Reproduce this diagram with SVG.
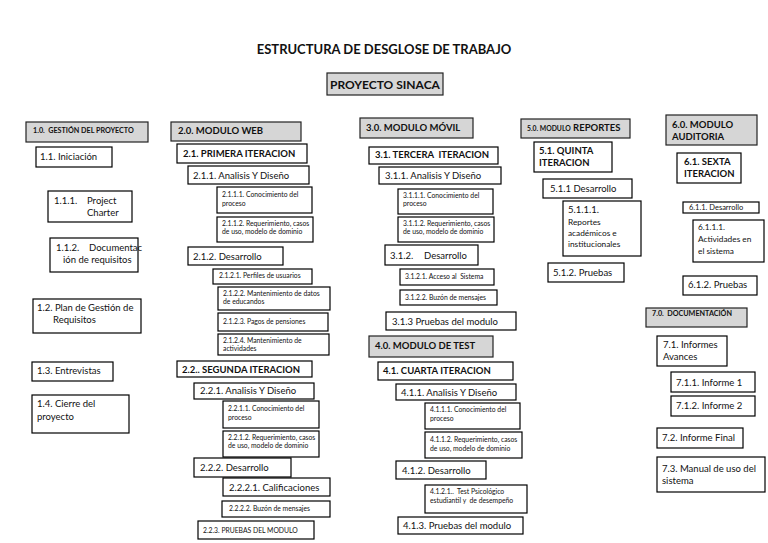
<svg xmlns="http://www.w3.org/2000/svg" width="768" height="543" viewBox="0 0 768 543">
<style>
rect{fill:#fff;stroke:#000;stroke-width:1.2}
rect.g{fill:#d6d6d6;stroke:#222}
text{font-family:Lato,"Liberation Sans",sans-serif;fill:#111}
.ti{font-size:13px;font-weight:bold}
.p{font-size:12px;font-weight:bold}
.h{font-size:9.5px;font-weight:bold}
.hs{font-size:7.2px;font-weight:bold}
.r{font-size:9.5px}
.s{font-size:6.8px}
.m{font-size:8.3px}
</style>
<rect width="768" height="543" style="fill:#fff;stroke:none"/>
<text class="ti" x="384" y="54" text-anchor="middle">ESTRUCTURA DE DESGLOSE DE TRABAJO</text>
<g id="proyecto"><rect class="g" x="327" y="73" width="116" height="22"/><text class="p" x="385" y="89" text-anchor="middle">PROYECTO SINACA</text></g>

<g id="n1_0"><rect class="g" x="26" y="122" width="122" height="20"/><text class="hs" x="33" y="133" xml:space="preserve">1.0.  GESTIÓN DEL PROYECTO</text></g>
<g id="n1_1"><rect x="36" y="147" width="76" height="20"/><text class="r" x="40" y="160">1.1. Iniciación</text></g>
<g id="n1_1_1"><rect x="48" y="191" width="84" height="31"/><text class="r" x="54" y="204">1.1.1.<tspan x="87">Project</tspan></text><text class="r" x="87" y="216">Charter</text></g>
<g id="n1_1_2"><rect x="50" y="238" width="88" height="34"/><text class="r" x="56" y="251">1.1.2.<tspan x="89">Documentac</tspan></text><text class="r" x="63" y="263">ión de requisitos</text></g>
<g id="n1_2"><rect x="33" y="299" width="108" height="34"/><text class="r" x="37" y="311">1.2. Plan de Gestión de</text><text class="r" x="53" y="323">Requisitos</text></g>
<g id="n1_3"><rect x="32" y="362" width="81" height="19"/><text class="r" x="37" y="374">1.3. Entrevistas</text></g>
<g id="n1_4"><rect x="32" y="395" width="97" height="38"/><text class="r" x="37" y="407">1.4. Cierre del</text><text class="r" x="37" y="420">proyecto</text></g>

<g id="n2_0"><rect class="g" x="171" y="122" width="130" height="19"/><text class="h" x="178" y="134">2.0. MODULO WEB</text></g>
<g id="n2_1"><rect x="177" y="144" width="130" height="19"/><text class="h" x="183" y="157">2.1. PRIMERA ITERACION</text></g>
<g id="n2_1_1"><rect x="188" y="166" width="121" height="18"/><text class="r" x="193" y="179">2.1.1. Analisis Y Diseño</text></g>
<g id="n2_1_1_1"><rect x="217" y="187" width="95" height="26"/><text class="s" x="222" y="197">2.1.1.1. Conocimiento del</text><text class="s" x="222" y="206">proceso</text></g>
<g id="n2_1_1_2"><rect x="217" y="217" width="96" height="25"/><text class="s" x="222" y="226">2.1.1.2. Requerimiento, casos</text><text class="s" x="222" y="234">de uso, modelo de dominio</text></g>
<g id="n2_1_2"><rect x="188" y="247" width="95" height="18"/><text class="r" x="193" y="260">2.1.2. Desarrollo</text></g>
<g id="n2_1_2_1"><rect x="213" y="269" width="99" height="15"/><text class="s" x="219" y="278">2.1.2.1. Perfiles de usuarios</text></g>
<g id="n2_1_2_2"><rect x="218" y="287" width="112" height="23"/><text class="s" x="223" y="296">2.1.2.2. Mantenimiento de datos</text><text class="s" x="223" y="304">de educandos</text></g>
<g id="n2_1_2_3"><rect x="218" y="313" width="110" height="18"/><text class="s" x="223" y="324">2.1.2.3. Pagos de pensiones</text></g>
<g id="n2_1_2_4"><rect x="218" y="334" width="111" height="21"/><text class="s" x="223" y="343">2.1.2.4. Mantenimiento de</text><text class="s" x="223" y="351">actividades</text></g>
<g id="n2_2"><rect x="177" y="361" width="135" height="16"/><text class="h" x="182" y="373">2.2.. SEGUNDA ITERACION</text></g>
<g id="n2_2_1"><rect x="194" y="383" width="120" height="16"/><text class="r" x="200" y="394">2.2.1. Analisis Y Diseño</text></g>
<g id="n2_2_1_1"><rect x="223" y="401" width="96" height="27"/><text class="s" x="228" y="411">2.2.1.1. Conocimiento del</text><text class="s" x="228" y="420">proceso</text></g>
<g id="n2_2_1_2"><rect x="223" y="431" width="96" height="26"/><text class="s" x="228" y="440">2.2.1.2. Requerimiento, casos</text><text class="s" x="228" y="448">de uso, modelo de dominio</text></g>
<g id="n2_2_2"><rect x="194" y="458" width="97" height="19"/><text class="r" x="200" y="471">2.2.2. Desarrollo</text></g>
<g id="n2_2_2_1"><rect x="223" y="478" width="107" height="18"/><text class="r" x="229" y="491">2.2.2.1. Calificaciones</text></g>
<g id="n2_2_2_2"><rect x="222" y="501" width="108" height="16"/><text class="s" x="229" y="511">2.2.2.2. Buzón de mensajes</text></g>
<g id="n2_2_3"><rect x="198" y="521" width="116" height="18"/><text class="s" x="203" y="533">2.2.3. PRUEBAS DEL MODULO</text></g>

<g id="n3_0"><rect class="g" x="360" y="118" width="113" height="20"/><text class="h" x="366" y="131">3.0. MODULO MÓVIL</text></g>
<g id="n3_1"><rect x="369" y="147" width="129" height="17"/><text class="h" x="375" y="158" xml:space="preserve">3.1. TERCERA  ITERACION</text></g>
<g id="n3_1_1"><rect x="379" y="167" width="122" height="17"/><text class="r" x="385" y="179">3.1.1. Analisis Y Diseño</text></g>
<g id="n3_1_1_1"><rect x="398" y="189" width="95" height="25"/><text class="s" x="403" y="198">3.1.1.1. Conocimiento del</text><text class="s" x="403" y="206">proceso</text></g>
<g id="n3_1_1_2"><rect x="398" y="217" width="96" height="25"/><text class="s" x="403" y="226">3.1.1.2. Requerimiento, casos</text><text class="s" x="403" y="234">de uso, modelo de dominio</text></g>
<g id="n3_1_2"><rect x="385" y="245" width="93" height="20"/><text class="r" x="390" y="259">3.1.2.<tspan x="424">Desarrollo</tspan></text></g>
<g id="n3_1_2_1"><rect x="400" y="269" width="94" height="16"/><text class="s" x="405" y="279" xml:space="preserve">3.1.2.1. Acceso al  Sistema</text></g>
<g id="n3_1_2_2"><rect x="400" y="290" width="97" height="15"/><text class="s" x="405" y="300">3.1.2.2. Buzón de mensajes</text></g>
<g id="n3_1_3"><rect x="386" y="312" width="130" height="18"/><text class="r" x="392" y="325">3.1.3 Pruebas del modulo</text></g>
<g id="n4_0"><rect class="g" x="369" y="336" width="124" height="21"/><text class="h" x="375" y="349">4.0. MODULO DE TEST</text></g>
<g id="n4_1"><rect x="378" y="362" width="135" height="18"/><text class="h" x="383" y="374">4.1. CUARTA ITERACION</text></g>
<g id="n4_1_1"><rect x="396" y="384" width="120" height="16"/><text class="r" x="401" y="396">4.1.1. Analisis Y Diseño</text></g>
<g id="n4_1_1_1"><rect x="425" y="403" width="95" height="26"/><text class="s" x="430" y="412">4.1.1.1. Conocimiento del</text><text class="s" x="430" y="421">proceso</text></g>
<g id="n4_1_1_2"><rect x="425" y="432" width="97" height="26"/><text class="s" x="430" y="442">4.1.1.2. Requerimiento, casos</text><text class="s" x="430" y="451">de uso, modelo de dominio</text></g>
<g id="n4_1_2"><rect x="396" y="461" width="90" height="18"/><text class="r" x="402" y="474">4.1.2. Desarrollo</text></g>
<g id="n4_1_2_1"><rect x="425" y="485" width="102" height="28"/><text class="s" x="430" y="494" xml:space="preserve">4.1.2.1..  Test Psicológico</text><text class="s" x="430" y="503" xml:space="preserve">estudiantil y  de desempeño</text></g>
<g id="n4_1_3"><rect x="398" y="517" width="125" height="17"/><text class="r" x="403" y="529">4.1.3. Pruebas del modulo</text></g>

<g id="n5_0"><rect class="g" x="521" y="119" width="109" height="19"/><text class="h" x="527" y="131"><tspan style="font-size:6.8px">5.0. MODULO</tspan> REPORTES</text></g>
<g id="n5_1"><rect x="534" y="142" width="78" height="30"/><text class="h" x="539" y="154">5.1. QUINTA</text><text class="h" x="539" y="166">ITERACION</text></g>
<g id="n5_1_1"><rect x="543" y="179" width="89" height="19"/><text class="r" x="550" y="192">5.1.1 Desarrollo</text></g>
<g id="n5_1_1_1"><rect x="563" y="201" width="78" height="55"/><text class="r" x="568" y="213">5.1.1.1.</text><text class="m" x="568" y="225">Reportes</text><text class="m" x="568" y="236">académicos e</text><text class="m" x="568" y="247">institucionales</text></g>
<g id="n5_1_2"><rect x="548" y="263" width="76" height="19"/><text class="r" x="553" y="276">5.1.2. Pruebas</text></g>

<g id="n6_0"><rect class="g" x="666" y="115" width="91" height="30"/><text class="h" x="672" y="128">6.0. MODULO</text><text class="h" x="672" y="140">AUDITORIA</text></g>
<g id="n6_1"><rect x="677" y="153" width="64" height="30"/><text class="h" x="684" y="165">6.1. SEXTA</text><text class="h" x="684" y="177">ITERACION</text></g>
<g id="n6_1_1"><rect x="683" y="202" width="76" height="11"/><text class="s" x="689" y="210" style="font-size:7.5px">6.1.1. Desarrollo</text></g>
<g id="n6_1_1_1"><rect x="693" y="220" width="71" height="42"/><text class="m" x="698" y="230">6.1.1.1.</text><text class="m" x="698" y="242">Actividades en</text><text class="m" x="698" y="254">el sistema</text></g>
<g id="n6_1_2"><rect x="683" y="276" width="74" height="19"/><text class="r" x="688" y="288">6.1.2. Pruebas</text></g>

<g id="n7_0"><rect class="g" x="646" y="308" width="101" height="19"/><text class="hs" x="652" y="316" xml:space="preserve">7.0.  DOCUMENTACIÓN</text></g>
<g id="n7_1"><rect x="657" y="336" width="70" height="30"/><text class="r" x="663" y="348">7.1. Informes</text><text class="r" x="663" y="360">Avances</text></g>
<g id="n7_1_1"><rect x="671" y="372" width="84" height="20"/><text class="r" x="676" y="386">7.1.1. Informe 1</text></g>
<g id="n7_1_2"><rect x="671" y="396" width="84" height="20"/><text class="r" x="676" y="409">7.1.2. Informe 2</text></g>
<g id="n7_2"><rect x="657" y="428" width="86" height="20"/><text class="r" x="662" y="441">7.2. Informe Final</text></g>
<g id="n7_3"><rect x="657" y="457" width="108" height="35"/><text class="r" x="662" y="472">7.3. Manual de uso del</text><text class="r" x="662" y="484">sistema</text></g>
<g id="connectors"></g>
</svg>
